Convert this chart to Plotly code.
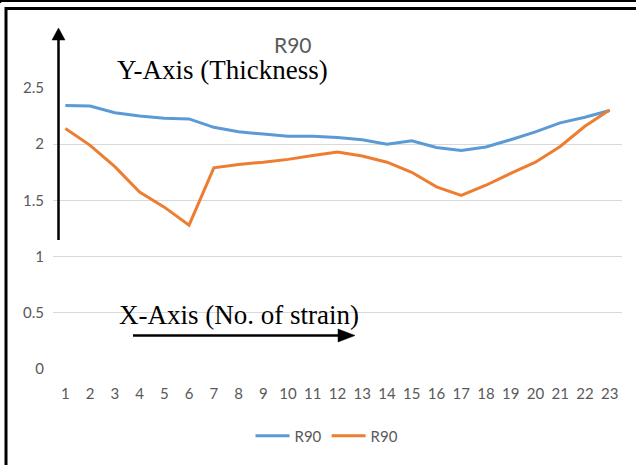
import plotly.graph_objects as go

# Strain number along the x-axis
strain_no = [str(i) for i in range(1, 24)]

# Thickness measurements, two R90 series
r90_blue = [2.345, 2.34, 2.28, 2.25, 2.23, 2.225, 2.15, 2.11, 2.09, 2.07, 2.07, 2.06,
            2.04, 2.00, 2.03, 1.97, 1.945, 1.975, 2.04, 2.11, 2.19, 2.24, 2.30]
r90_orange = [2.14, 1.99, 1.80, 1.575, 1.44, 1.28, 1.79, 1.82, 1.84, 1.865, 1.90, 1.93,
              1.895, 1.84, 1.75, 1.62, 1.545, 1.635, 1.74, 1.84, 1.98, 2.16, 2.305]

y_ticks = [0, 0.5, 1, 1.5, 2, 2.5]
y_tick_text = ["0", "0.5", "1", "1.5", "2", "2.5"]

W, H = 636, 465
L, R, T, B = 53, 622, 88, 369  # plot area edges in pixels


def px(x):
    return (x - L) / (R - L)


def py(y):
    return (B - y) / (B - T)


BLUE = "#5B9BD5"
ORANGE = "#ED7D31"
GRAY = "#595959"
FONT = "Lato, 'Open Sans', sans-serif"
SERIF = "'Liberation Serif', 'DejaVu Serif', serif"

fig = go.Figure()
fig.add_trace(go.Scatter(x=strain_no, y=r90_blue, mode="lines", name="R90",
                         line=dict(color=BLUE, width=3)))
fig.add_trace(go.Scatter(x=strain_no, y=r90_orange, mode="lines", name="R90",
                         line=dict(color=ORANGE, width=3)))

shapes = []
# frame lines
shapes.append(dict(type="line", xref="paper", yref="paper", x0=px(0), x1=px(W),
                   y0=py(1), y1=py(1), line=dict(color="black", width=2)))
shapes.append(dict(type="line", xref="paper", yref="paper", x0=px(0.5), x1=px(0.5),
                   y0=py(0), y1=py(3), line=dict(color="black", width=1.5)))
shapes.append(dict(type="line", xref="paper", yref="paper", x0=px(5), x1=px(W),
                   y0=py(8.5), y1=py(8.5), line=dict(color="black", width=3)))
shapes.append(dict(type="line", xref="paper", yref="paper", x0=px(6), x1=px(6),
                   y0=py(7), y1=py(H), line=dict(color="black", width=3)))

# vertical arrow (Y-axis indicator)
shapes.append(dict(type="line", xref="paper", yref="paper", x0=px(58.5), x1=px(58.5),
                   y0=py(240), y1=py(38), line=dict(color="black", width=2.5)))
shapes.append(dict(type="path", xref="paper", yref="paper",
                   path=f"M {px(52)},{py(40)} L {px(65)},{py(40)} L {px(58.5)},{py(28)} Z",
                   fillcolor="black", line=dict(color="black", width=0.5)))
# horizontal arrow (X-axis indicator)
shapes.append(dict(type="line", xref="paper", yref="paper", x0=px(133), x1=px(341),
                   y0=py(335.5), y1=py(335.5), line=dict(color="black", width=2.5)))
shapes.append(dict(type="path", xref="paper", yref="paper",
                   path=f"M {px(338)},{py(329)} L {px(338)},{py(342)} L {px(355)},{py(335.5)} Z",
                   fillcolor="black", line=dict(color="black", width=0.5)))

annotations = [
    dict(text="R90", xref="paper", yref="paper", x=px(293), y=py(45), showarrow=False,
         font=dict(family=FONT, size=21, color=GRAY), xanchor="center", yanchor="middle"),
    dict(text="Y-Axis (Thickness)", xref="paper", yref="paper", x=px(222), y=py(70),
         showarrow=False, font=dict(family=SERIF, size=27, color="black"),
         xanchor="center", yanchor="middle"),
    dict(text="X-Axis (No. of strain)", xref="paper", yref="paper", x=px(239), y=py(315),
         showarrow=False, font=dict(family=SERIF, size=27, color="black"),
         xanchor="center", yanchor="middle"),
]

fig.update_layout(
    width=W, height=H,
    margin=dict(l=L, r=W - R, t=T, b=H - B),
    paper_bgcolor="white", plot_bgcolor="white",
    showlegend=True,
    legend=dict(orientation="h", x=px(327), y=py(436), xanchor="center", yanchor="middle",
                font=dict(family=FONT, size=15, color=GRAY), itemwidth=34),
    xaxis=dict(type="category", range=[-0.5, 22.5], showgrid=False, showline=False,
               zeroline=False, ticks="", tickfont=dict(family=FONT, size=15, color=GRAY),
               ticklabelstandoff=14),
    yaxis=dict(range=[0, 2.5], tickvals=y_ticks, ticktext=y_tick_text, showgrid=True,
               gridcolor="#D9D9D9", gridwidth=1, zeroline=False, showline=False, ticks="",
               tickfont=dict(family=FONT, size=15, color=GRAY), ticklabelstandoff=8),
    shapes=shapes,
    annotations=annotations,
)

fig.write_html("out.html")
